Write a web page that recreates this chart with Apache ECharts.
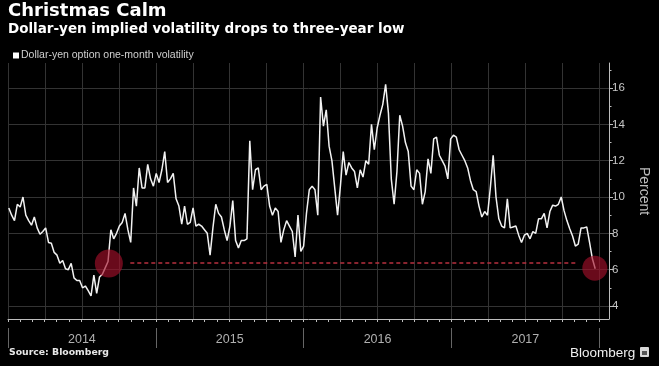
<!DOCTYPE html>
<html><head><meta charset="utf-8">
<script src="https://cdn.jsdelivr.net/npm/echarts@6/dist/echarts.min.js"></script>
<style>html,body{margin:0;padding:0;background:#000}#c{width:659px;height:366px}</style>
</head><body><div id="c"></div>
<script>
const titleText = 'Christmas Calm';
const subtitleText = 'Dollar-yen implied volatility drops to three-year low';
const seriesName = 'Dollar-yen option one-month volatility';
const sourceText = 'Source: Bloomberg';
const brandText = 'Bloomberg';
const axisName = 'Percent';
const startDate = '2014-01-03';
const stepDays = 7;
const vol = [
  9.4, 9.0, 8.7, 9.6, 9.45, 10.0, 9.0, 8.7, 8.45, 8.9,
  8.3, 7.95, 8.1, 8.3, 7.5, 7.45, 6.95, 6.8, 6.35, 6.5,
  6.05, 6.0, 6.35, 5.55, 5.4, 5.4, 5.0, 5.1, 4.85, 4.55,
  5.7, 4.7, 5.6, 5.75, 6.1, 6.45, 8.2, 7.7, 8.0, 8.4,
  8.6, 9.1, 8.2, 7.5, 10.5, 9.5, 11.6, 10.5, 10.5, 11.8,
  11.0, 10.6, 11.3, 10.8, 11.5, 12.5, 10.8, 11.0, 11.3, 9.9,
  9.5, 8.5, 9.5, 8.5, 8.6, 9.4, 8.4, 8.5, 8.4, 8.2,
  8.0, 6.8, 8.3, 9.6, 9.1, 8.9, 8.2, 7.6, 8.4, 9.8,
  7.6, 7.2, 7.6, 7.6, 7.7, 13.1, 10.4, 11.5, 11.6, 10.4,
  10.6, 10.7, 9.5, 9.0, 9.4, 9.2, 7.5, 8.2, 8.7, 8.4,
  8.1, 6.7, 9.0, 7.0, 7.3, 9.1, 10.4, 10.6, 10.4, 9.0,
  15.5, 13.9, 14.8, 12.8, 12.0, 10.5, 9.0, 10.6, 12.5, 11.2,
  11.9, 11.6, 11.4, 10.5, 11.5, 11.1, 12.0, 11.8, 14.0, 12.6,
  13.8, 14.5, 15.1, 16.2, 14.6, 11.0, 9.6, 11.4, 14.5, 13.9,
  13.0, 12.5, 10.6, 10.4, 11.5, 11.3, 9.6, 10.3, 12.1, 11.3,
  13.2, 13.3, 12.3, 12.0, 11.7, 11.0, 13.2, 13.4, 13.3, 12.6,
  12.3, 12.0, 11.6, 10.9, 10.4, 10.3, 9.5, 8.9, 9.2, 9.0,
  10.5, 12.3, 10.0, 8.8, 8.4, 8.3, 9.9, 8.3, 8.35, 8.4,
  7.9, 7.5, 7.9, 8.0, 7.7, 8.1, 8.0, 8.8, 8.8, 9.1,
  8.3, 9.2, 9.55, 9.5, 9.6, 10.0, 9.25, 8.7, 8.25, 7.85,
  7.3, 7.4, 8.3, 8.3, 8.35, 7.5, 6.6, 6.05
];
const years = [2014, 2015, 2016, 2017];
const yTicks = [4, 6, 8, 10, 12, 14, 16];
const yMinorTicks = [5, 7, 9, 11, 13, 15, 17];
const lowLevel = 6.37;
const lowLineDates = ['2014-10-30', '2017-11-05'];
const circleDates = ['2014-09-07', '2017-12-21'];
const circleValues = [6.34, 6.08];
const circleSizes = [28, 25];
const axisStartDate = '2014-01-01';
const axisEndDate = '2018-01-25';

function toYear(d) {
  const t = typeof d === 'string' ? Date.parse(d + 'T00:00:00Z') : d;
  const y = new Date(t).getUTCFullYear();
  const a = Date.UTC(y, 0, 1), b = Date.UTC(y + 1, 0, 1);
  return y + (t - a) / (b - a);
}
const t0 = Date.parse(startDate + 'T00:00:00Z');
const lineData = vol.map((v, i) => [toYear(t0 + i * stepDays * 86400000), v]);
const xMin = toYear(axisStartDate), xMax = toYear(axisEndDate);
const quarters = [], months = [];
for (let y = years[0]; y <= years[years.length - 1] + 1; y++) {
  for (let q = 0; q < 4; q++) { const v = y + q / 4; if (v <= xMax) quarters.push(v); }
  for (let m = 0; m < 12; m++) { const v = toYear(Date.UTC(y, m, 1)); if (v <= xMax) months.push(v); }
}
const yearBounds = years.concat([years[years.length - 1] + 1]);
const yearMids = years.map(y => y + 0.5);

const chart = echarts.init(document.getElementById('c'));
const gridLine = '#333';
const axisCol = '#bdbdbd';
chart.setOption({
  backgroundColor: '#000',
  animation: false,
  title: [
    { text: titleText, left: 8, top: 2, padding: 0,
      textStyle: { color: '#fff', fontSize: 18, fontWeight: 'bold', fontFamily: 'DejaVu Sans' } },
    { text: subtitleText, left: 8, top: 22, padding: 0,
      textStyle: { color: '#fff', fontSize: 13.5, fontWeight: 'bold', fontFamily: 'DejaVu Sans' } }
  ],
  legend: {
    data: [seriesName], left: 8, top: 45, padding: 5, itemWidth: 6, itemHeight: 6, icon: 'rect',
    itemStyle: { color: '#fff' },
    textStyle: { color: '#cfcfcf', fontSize: 10.5, fontFamily: 'Liberation Sans', padding: [0, 0, 0, -3] }
  },
  grid: { left: 8, right: 44, top: 63, bottom: 47 },
  xAxis: [
    { type: 'value', min: xMin, max: xMax, position: 'bottom',
      axisLine: { show: true, lineStyle: { color: axisCol, width: 1 } },
      axisTick: { show: false, customValues: quarters },
      axisLabel: { show: false },
      splitLine: { show: true, lineStyle: { color: gridLine, width: 1 } } },
    { type: 'value', min: xMin, max: xMax, position: 'bottom',
      axisLine: { show: false },
      axisTick: { show: true, customValues: months, length: 3, lineStyle: { color: axisCol } },
      axisLabel: { show: false }, splitLine: { show: false } },
    { type: 'value', min: xMin, max: xMax, position: 'bottom', offset: 9,
      axisLine: { show: false },
      axisTick: { show: true, customValues: yearBounds, length: 20, lineStyle: { color: '#666' } },
      axisLabel: { show: true, customValues: yearMids, margin: 5, color: '#b0b0b0', fontSize: 12.5,
        fontFamily: 'Liberation Sans Narrow, Liberation Sans',
        formatter: v => String(Math.floor(v)) },
      splitLine: { show: false } }
  ],
  yAxis: [
    { type: 'value', position: 'right', min: 3.284, max: 17.377,
      name: axisName, nameLocation: 'middle', nameRotate: -90, nameGap: 28,
      nameTextStyle: { color: '#bdbdbd', fontSize: 14, fontFamily: 'Liberation Sans' },
      axisLine: { show: true, lineStyle: { color: axisCol, width: 1 } },
      axisTick: { show: true, inside: false, length: 4, customValues: yTicks, lineStyle: { color: axisCol } },
      axisLabel: { show: true, customValues: yTicks, margin: 3, color: '#c8c8c8', fontSize: 11.5, fontFamily: 'Liberation Sans' },
      splitLine: { show: true, lineStyle: { color: gridLine, width: 1 } } },
    { type: 'value', position: 'right', min: 3.284, max: 17.377,
      axisLine: { show: false },
      axisTick: { show: true, length: 2.5, customValues: yMinorTicks, lineStyle: { color: axisCol } },
      axisLabel: { show: false }, splitLine: { show: false } }
  ],
  series: [
    { name: seriesName, type: 'line', xAxisIndex: 0, yAxisIndex: 0, data: lineData,
      showSymbol: false, symbol: 'none', color: '#fff',
      lineStyle: { color: '#f2f2f2', width: 1.5 }, z: 3,
      markLine: { silent: true, symbol: ['none', 'none'], animation: false,
        label: { show: false },
        lineStyle: { type: [4, 3], color: '#b8303f', width: 1.5 },
        data: [[{ coord: [toYear(lowLineDates[0]), lowLevel] }, { coord: [toYear(lowLineDates[1]), lowLevel] }]] } },
    { name: 'lows', type: 'scatter', xAxisIndex: 0, yAxisIndex: 0, z: 5, silent: true,
      data: circleDates.map((d, i) => ({ value: [toYear(d), circleValues[i]], symbolSize: circleSizes[i] })),
      itemStyle: { color: 'rgba(165,16,42,0.8)' } }
  ],
  graphic: [
    { type: 'text', left: 9, top: 348,
      style: { text: sourceText, fill: '#e8e8e8', font: 'bold 9.3px "DejaVu Sans"' } },
    { type: 'text', left: 570, top: 346,
      style: { text: brandText, fill: '#f0f0f0', font: '13.5px "Liberation Sans"' } },
    { type: 'rect', left: 640, top: 347, shape: { width: 9, height: 10, r: 1 }, style: { fill: '#d8d8d8' } },
    { type: 'rect', left: 642, top: 351, shape: { width: 5, height: 4 }, style: { fill: '#555' } }
  ]
});
</script></body></html>
